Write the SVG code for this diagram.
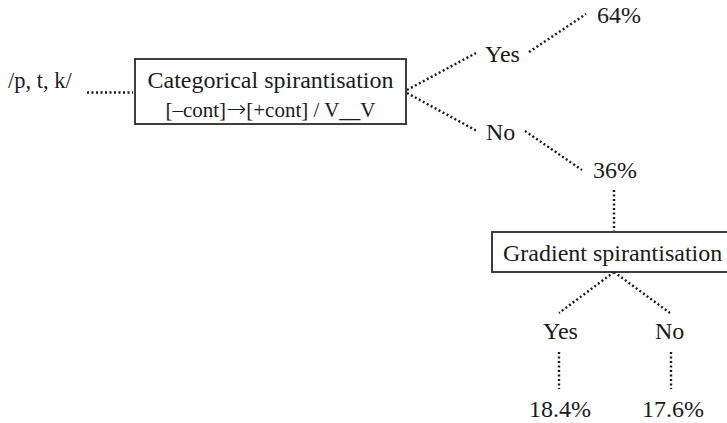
<svg xmlns="http://www.w3.org/2000/svg" width="727" height="423" viewBox="0 0 727 423">
  <style>
    text { font-family: "Liberation Serif", "Times New Roman", serif; fill: #1a1a1a; }
    .t { font-size: 24px; }
    .src { font-size: 22.5px; }
    .rule { font-size: 21px; }
    .arrow { font-family: "DejaVu Sans", sans-serif; font-size: 24px; font-weight: 200; }
    .box { fill: #ffffff; stroke: #2a2a2a; stroke-width: 1.8; }
    .dot { fill: none; stroke: #1a1a1a; stroke-width: 2.4; stroke-dasharray: 2 2.5; }
  </style>
  <rect width="727" height="423" fill="#ffffff"/>

  <g id="connectors">
    <line class="dot" x1="87" y1="92.5" x2="133" y2="92.5"/>
    <line class="dot" x1="407" y1="90" x2="476" y2="53"/>
    <line class="dot" x1="407" y1="93" x2="477" y2="131"/>
    <line class="dot" x1="529" y1="52" x2="586" y2="14"/>
    <line class="dot" x1="525" y1="131" x2="582" y2="170"/>
    <line class="dot" x1="614" y1="190" x2="614" y2="231"/>
    <line class="dot" x1="614" y1="272" x2="559" y2="313"/>
    <line class="dot" x1="614" y1="272" x2="670" y2="313"/>
    <line class="dot" x1="559" y1="352" x2="559" y2="389"/>
    <line class="dot" x1="671" y1="352" x2="671" y2="389"/>
  </g>

  <g id="input">
    <text class="src" x="8" y="88">/p, t, k/</text>
  </g>

  <g id="categorical">
    <rect class="box" x="135" y="59" width="271" height="65"/>
    <text class="t" x="270.5" y="88" text-anchor="middle">Categorical spirantisation</text>
    <text class="rule" x="270.5" y="117" text-anchor="middle">[–cont]<tspan class="arrow">→</tspan>[+cont] / V__V</text>
  </g>

  <g id="cat-yes"><text class="t" x="485" y="62">Yes</text></g>
  <g id="cat-yes-pct"><text class="t" x="597" y="23">64%</text></g>
  <g id="cat-no"><text class="t" x="486" y="140">No</text></g>
  <g id="cat-no-pct"><text class="t" x="593" y="178">36%</text></g>

  <g id="gradient">
    <rect class="box" x="492" y="232" width="240" height="40"/>
    <text class="t" x="503" y="261">Gradient spirantisation</text>
  </g>

  <g id="grad-yes"><text class="t" x="543" y="339">Yes</text></g>
  <g id="grad-no"><text class="t" x="655" y="339">No</text></g>
  <g id="grad-yes-pct"><text class="t" x="529" y="417">18.4%</text></g>
  <g id="grad-no-pct"><text class="t" x="642" y="417">17.6%</text></g>
</svg>
